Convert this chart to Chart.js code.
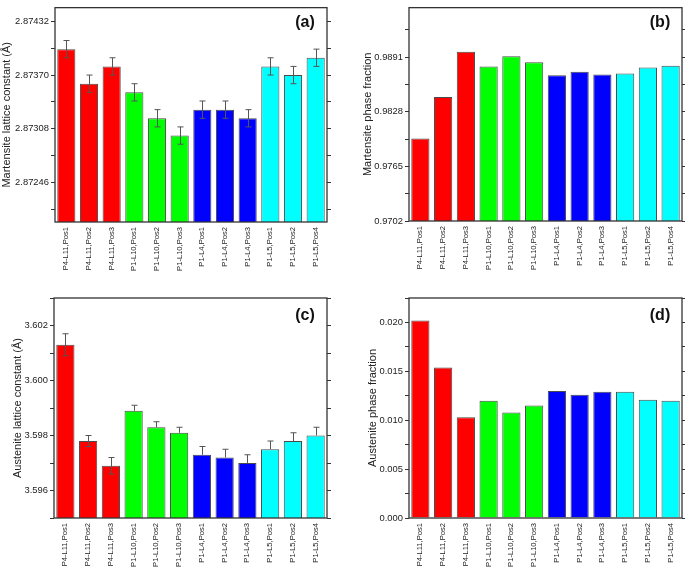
<!DOCTYPE html>
<html>
<head>
<meta charset="utf-8">
<script src="https://cdn.jsdelivr.net/npm/chart.js@4/dist/chart.umd.min.js"></script>
<style>
  body { margin: 0; background: #fff; width: 685px; height: 569px; position: relative; overflow: hidden; }
  canvas { position: absolute; }
</style>
</head>
<body>
<canvas id="chartA" width="342" height="285" style="left:0;top:0"></canvas>
<canvas id="chartB" width="343" height="285" style="left:342px;top:0"></canvas>
<canvas id="chartC" width="342" height="284" style="left:0;top:285px"></canvas>
<canvas id="chartD" width="343" height="284" style="left:342px;top:285px"></canvas>
<script>
// sample positions along the x axis
const samples = [
    "P4-L11,Pos1", "P4-L11,Pos2", "P4-L11,Pos3",
    "P1-L10,Pos1", "P1-L10,Pos2", "P1-L10,Pos3",
    "P1-L4,Pos1", "P1-L4,Pos2", "P1-L4,Pos3",
    "P1-L5,Pos1", "P1-L5,Pos2", "P1-L5,Pos4"
];

// (a) martensite lattice constant, with error
const martLattice = [2.87400, 2.87360, 2.87380, 2.87350, 2.87320, 2.87300, 2.87330, 2.87330, 2.87320, 2.87380, 2.87370, 2.87390];
const martLatticeErr = [0.0001, 0.0001, 0.0001, 0.0001, 0.0001, 0.0001, 0.0001, 0.0001, 0.0001, 0.0001, 0.0001, 0.0001];
const martLatticeTicks = [2.87246, 2.87308, 2.87370, 2.87432];

// (b) martensite phase fraction
const martFraction = [0.9797, 0.9845, 0.9897, 0.9880, 0.9892, 0.9885, 0.9870, 0.9874, 0.9871, 0.9872, 0.9879, 0.9881];
const martFractionTicks = [0.9702, 0.9765, 0.9828, 0.9891];

// (c) austenite lattice constant, with error (upper / lower)
const austLattice = [3.6013, 3.5978, 3.5969, 3.5989, 3.5983, 3.5981, 3.5973, 3.5972, 3.5970, 3.5975, 3.5978, 3.5980];
const austLatticeErrUp = [0.0004, 0.0002, 0.0003, 0.0002, 0.0002, 0.0002, 0.0003, 0.0003, 0.0003, 0.0003, 0.0003, 0.0003];
const austLatticeErrDown = [0.0004, 0.0002, 0.0003, 0, 0, 0, 0, 0, 0, 0, 0, 0];
const austLatticeTicks = [3.596, 3.598, 3.600, 3.602];

// (d) austenite phase fraction
const austFraction = [0.0202, 0.0154, 0.0103, 0.0120, 0.0108, 0.0115, 0.0130, 0.0126, 0.0129, 0.0129, 0.0121, 0.0120];
const austFractionTicks = [0.000, 0.005, 0.010, 0.015, 0.020];

const barColors = [
    "#ff0000", "#ff0000", "#ff0000",
    "#00ff00", "#00ff00", "#00ff00",
    "#0000ff", "#0000ff", "#0000ff",
    "#00ffff", "#00ffff", "#00ffff"
];

Chart.defaults.font.family = "'Liberation Sans', Arial, sans-serif";
Chart.defaults.color = "#222";

// box around the plot area
const framePlugin = {
    id: "frame",
    afterDraw(chart) {
        const a = chart.chartArea, ctx = chart.ctx;
        ctx.save();
        ctx.strokeStyle = "#333";
        ctx.lineWidth = 1.3;
        ctx.strokeRect(a.left, a.top, a.right - a.left, a.bottom - a.top);
        ctx.restore();
    }
};

const errorBarsPlugin = {
    id: "errorBars",
    afterDatasetsDraw(chart, args, opts) {
        if (!opts.up) return;
        const meta = chart.getDatasetMeta(0);
        const y = chart.scales.y;
        const vals = chart.data.datasets[0].data;
        const ctx = chart.ctx;
        ctx.save();
        ctx.strokeStyle = "#555";
        ctx.lineWidth = 1;
        meta.data.forEach((bar, i) => {
            const x = Math.round(bar.x) + 0.5;
            const yTop = y.getPixelForValue(vals[i] + opts.up[i]);
            const yBot = y.getPixelForValue(vals[i] - opts.down[i]);
            ctx.beginPath();
            ctx.moveTo(x, yTop);
            ctx.lineTo(x, yBot);
            ctx.moveTo(x - 3, yTop);
            ctx.lineTo(x + 3, yTop);
            if (opts.down[i] > 0) {
                ctx.moveTo(x - 3, yBot);
                ctx.lineTo(x + 3, yBot);
            }
            ctx.stroke();
        });
        ctx.restore();
    }
};

const panelTagPlugin = {
    id: "panelTag",
    afterDraw(chart, args, opts) {
        const a = chart.chartArea, ctx = chart.ctx;
        ctx.save();
        ctx.font = "bold 16px 'Liberation Sans', Arial, sans-serif";
        ctx.fillStyle = "#111";
        ctx.textAlign = "center";
        ctx.textBaseline = "middle";
        ctx.fillText(opts.text, a.right - 22, a.top + opts.dy);
        ctx.restore();
    }
};

function makePanel(canvasId, p) {
    // major ticks plus a minor tick halfway between each pair
    const step = p.ticks[1] - p.ticks[0];
    const tickList = [];
    p.ticks.forEach(v => {
        tickList.push({ value: v, main: true });
        tickList.push({ value: v + step / 2, main: false });
    });
    tickList.push({ value: p.ticks[0] - step / 2, main: false });
    const inRange = tickList.filter(t => t.value >= p.min - 1e-9 && t.value <= p.max + 1e-9);
    const setTicks = s => { s.ticks = inRange.map(t => ({ value: t.value, main: t.main })); };

    return new Chart(document.getElementById(canvasId), {
        type: "bar",
        data: {
            labels: samples,
            datasets: [{
                data: p.values,
                backgroundColor: barColors,
                borderColor: "#4a4a4a",
                borderWidth: 1,
                barPercentage: 0.8,
                categoryPercentage: 1
            }]
        },
        options: {
            responsive: false,
            animation: false,
            layout: { padding: { left: p.padLeft, top: p.padTop, right: 0, bottom: 0 } },
            plugins: {
                legend: { display: false },
                tooltip: { enabled: false },
                errorBars: { up: p.errUp, down: p.errDown },
                panelTag: { text: p.tag, dy: p.tagDy }
            },
            scales: {
                x: {
                    grid: { display: false, drawTicks: false },
                    border: { display: false },
                    ticks: {
                        autoSkip: false,
                        minRotation: 90,
                        maxRotation: 90,
                        padding: 5,
                        color: "#222",
                        font: { size: 7.6 }
                    },
                    afterFit: s => { s.height = p.xHeight; }
                },
                y: {
                    min: p.min,
                    max: p.max,
                    afterBuildTicks: setTicks,
                    ticks: {
                        padding: 2,
                        color: "#222",
                        font: { size: 9.4 },
                        callback: (v, i, ticks) => ticks[i].main ? v.toFixed(p.digits) : ""
                    },
                    grid: { drawOnChartArea: false, tickLength: 4, color: "#333" },
                    border: { display: false },
                    title: {
                        display: true,
                        text: p.title,
                        color: "#222",
                        font: { size: 11 },
                        padding: 0
                    },
                    afterFit: s => { s.width = p.yWidth; }
                },
                y2: {
                    position: "right",
                    min: p.min,
                    max: p.max,
                    afterBuildTicks: setTicks,
                    ticks: { callback: () => "", padding: 0 },
                    grid: { drawOnChartArea: false, tickLength: 4, color: "#333" },
                    border: { display: false },
                    afterFit: s => { s.width = p.rightWidth; }
                }
            }
        },
        plugins: [framePlugin, errorBarsPlugin, panelTagPlugin]
    });
}

makePanel("chartA", {
    values: martLattice, errUp: martLatticeErr, errDown: martLatticeErr,
    ticks: martLatticeTicks, min: 2.8720, max: 2.87448, digits: 5,
    title: "Martensite lattice constant (Å)", tag: "(a)", tagDy: 15,
    padLeft: 0, yWidth: 55, rightWidth: 15, padTop: 3, xHeight: 63
});

makePanel("chartB", {
    values: martFraction,
    ticks: martFractionTicks, min: 0.9702, max: 0.9948, digits: 4,
    title: "Martensite phase fraction", tag: "(b)", tagDy: 15,
    padLeft: 19, yWidth: 48, rightWidth: 3, padTop: 3, xHeight: 64
});

makePanel("chartC", {
    values: austLattice, errUp: austLatticeErrUp, errDown: austLatticeErrDown,
    ticks: austLatticeTicks, min: 3.595, max: 3.603, digits: 3,
    title: "Austenite lattice constant (Å)", tag: "(c)", tagDy: 18,
    padLeft: 11, yWidth: 43, rightWidth: 15, padTop: 13, xHeight: 51
});

makePanel("chartD", {
    values: austFraction,
    ticks: austFractionTicks, min: 0, max: 0.0225, digits: 3,
    title: "Austenite phase fraction", tag: "(d)", tagDy: 18,
    padLeft: 24, yWidth: 43, rightWidth: 3, padTop: 13, xHeight: 51
});
</script>
</body>
</html>
